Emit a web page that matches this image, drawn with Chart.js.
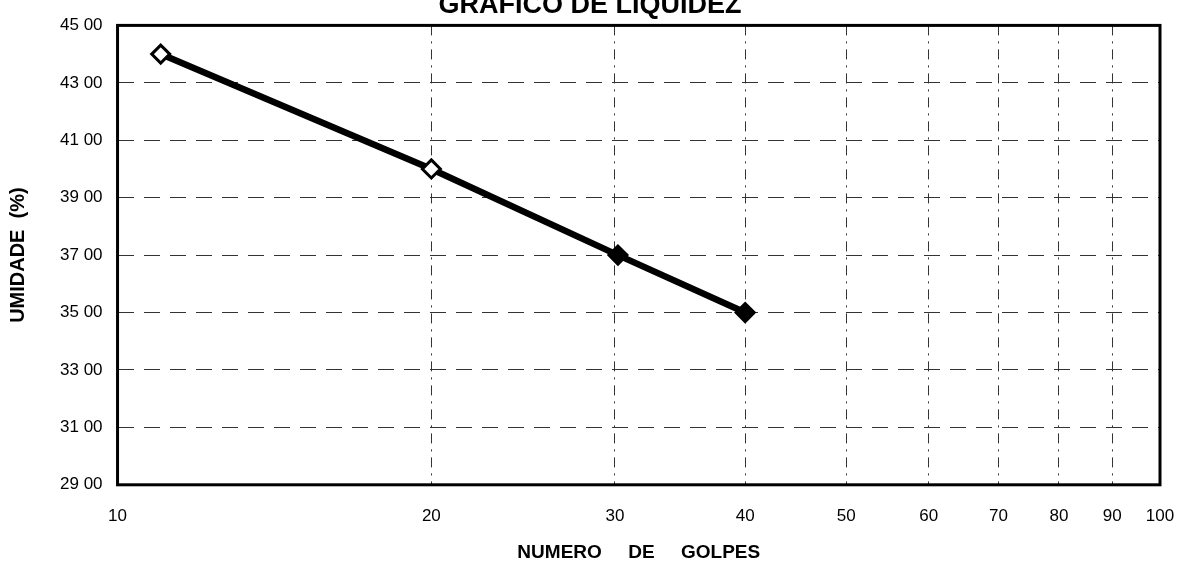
<!DOCTYPE html>
<html>
<head>
<meta charset="utf-8">
<script src="https://cdn.jsdelivr.net/npm/chart.js@4.4.0/dist/chart.umd.min.js"></script>
<style>
    html, body { margin: 0; padding: 0; background: #fff; }
    #wrap { width: 1178px; height: 570px; }
</style>
</head>
<body>
<div id="wrap"><canvas id="grafico"></canvas></div>
<script>
// dados
var golpes = [11, 20, 30.2, 40];
var umidade = [44.0, 40.0, 37.0, 35.0];
var preenchimento = ["#ffffff", "#ffffff", "#000000", "#000000"];
var xTicks = [10, 20, 30, 40, 50, 60, 70, 80, 90, 100];

var fonte = "'Liberation Sans', Arial, sans-serif";

// moldura preta em volta da area do grafico
var moldura = {
    id: "moldura",
    afterDraw: function (chart) {
        var a = chart.chartArea;
        var ctx = chart.ctx;
        ctx.save();
        ctx.strokeStyle = "#000";
        ctx.lineWidth = 3;
        ctx.strokeRect(a.left, a.top, a.right - a.left, a.bottom - a.top);
        ctx.restore();
    }
};

var pontos = golpes.map(function (g, i) {
    return { x: g, y: umidade[i] };
});

var ctx = document.getElementById("grafico").getContext("2d");
new Chart(ctx, {
    type: "line",
    data: {
        datasets: [{
            label: "Umidade",
            data: pontos,
            borderColor: "#000",
            borderWidth: 6.5,
            tension: 0,
            pointStyle: "rectRot",
            pointRadius: 9,
            pointBorderWidth: 3,
            pointBorderColor: "#000",
            pointBackgroundColor: preenchimento
        }]
    },
    options: {
        responsive: true,
        maintainAspectRatio: false,
        animation: false,
        layout: {
            padding: { left: 2, right: 0, top: 0, bottom: 6 }
        },
        plugins: {
            legend: { display: false },
            tooltip: { enabled: false },
            title: {
                display: true,
                text: "GRAFICO DE LIQUIDEZ",
                color: "#000",
                font: { family: fonte, size: 27, weight: "bold" },
                padding: { top: -11, bottom: 4 }
            }
        },
        scales: {
            x: {
                type: "logarithmic",
                min: 10,
                max: 100,
                afterBuildTicks: function (axis) {
                    axis.ticks = xTicks.map(function (v) { return { value: v }; });
                },
                // o rotulo "100" fica quase na borda, como no original
                afterFit: function (axis) {
                    axis.paddingRight = 18;
                },
                ticks: {
                    autoSkip: false,
                    maxRotation: 0,
                    padding: 21,
                    color: "#000",
                    font: { family: fonte, size: 17 },
                    callback: function (value) { return String(value); }
                },
                grid: {
                    drawTicks: false,
                    color: function (c) {
                        var v = c.tick && c.tick.value;
                        return (v === 10 || v === 100) ? "rgba(0,0,0,0)" : "#333";
                    },
                    lineWidth: 1
                },
                border: { display: false, dash: [10, 6, 2, 6] },
                title: {
                    display: true,
                    text: "NUMERO     DE     GOLPES",
                    color: "#000",
                    font: { family: fonte, size: 19, weight: "bold" },
                    padding: { top: -6, bottom: 0 }
                }
            },
            y: {
                min: 29,
                max: 45,
                ticks: {
                    stepSize: 2,
                    padding: 15,
                    color: "#000",
                    font: { family: fonte, size: 17 },
                    callback: function (value) {
                        return value.toFixed(2).replace(".", " ");
                    }
                },
                grid: {
                    drawTicks: false,
                    color: function (c) {
                        var v = c.tick && c.tick.value;
                        return (v === 29 || v === 45) ? "rgba(0,0,0,0)" : "#333";
                    },
                    lineWidth: 1
                },
                border: { display: false, dash: [16, 10] },
                title: {
                    display: true,
                    text: "UMIDADE  (%)",
                    color: "#000",
                    font: { family: fonte, size: 20, weight: "bold" },
                    padding: { top: 4, bottom: 15 }
                }
            }
        }
    },
    plugins: [moldura]
});
</script>
</body>
</html>
